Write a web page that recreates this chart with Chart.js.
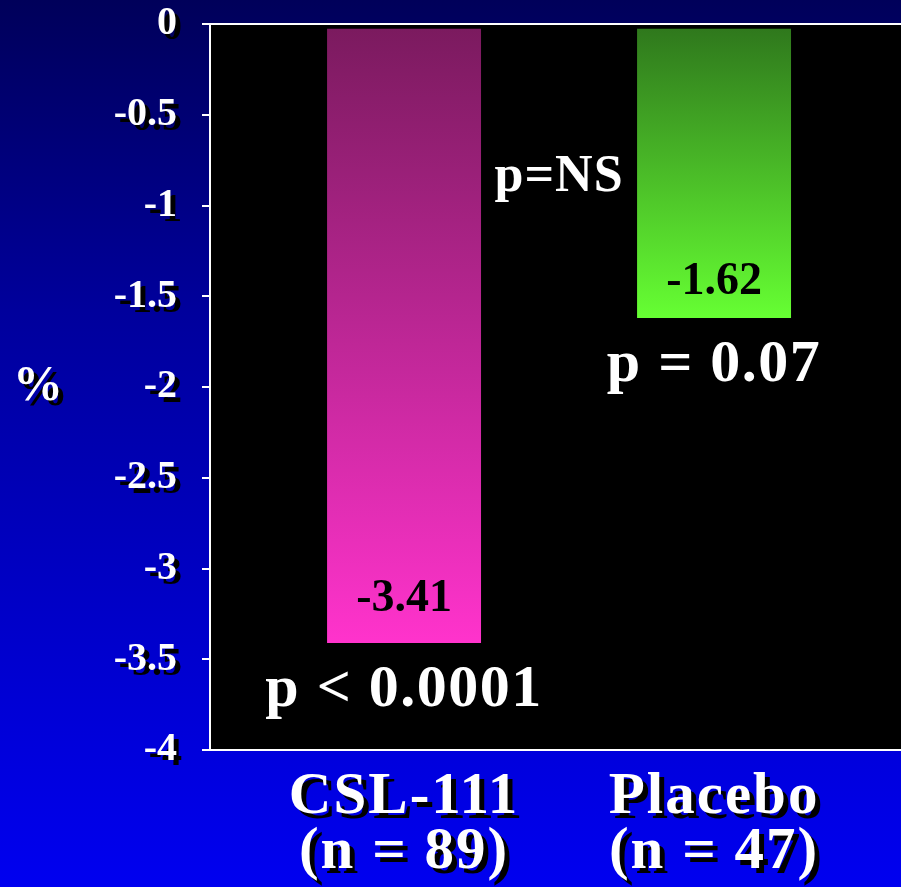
<!DOCTYPE html>
<html>
<head>
<meta charset="utf-8">
<script src="https://cdn.jsdelivr.net/npm/chart.js@4.4.1/dist/chart.umd.min.js"></script>
<style>
  html, body { margin: 0; padding: 0; }
  body {
    width: 901px; height: 887px; overflow: hidden;
    background: linear-gradient(#00005a 0%, #00009c 35%, #0000f0 100%);
  }
  canvas { display: block; }
</style>
</head>
<body>
<canvas id="chart" width="901" height="887"></canvas>
<script>
// data
const groups = ['CSL-111', 'Placebo'];
const groupSizes = ['(n = 89)', '(n = 47)'];
const changes = [-3.41, -1.62];
const valueLabels = ['-3.41', '-1.62'];
const pValues = ['p < 0.0001', 'p = 0.07'];
const pBetween = 'p=NS';
const yTickLabels = ['-4', '-3.5', '-3', '-2.5', '-2', '-1.5', '-1', '-0.5', '0'];
const yUnit = '%';

const SERIF = "'Liberation Serif', 'Times New Roman', serif";
const barTop = ['#7a1a5e', '#2e761c'];
const barBottom = ['#ff33cc', '#66ff33'];

// black plot area + white shadowed tick labels
const slideLook = {
  id: 'slideLook',
  beforeDraw(chart) {
    const { ctx, chartArea: a } = chart;
    ctx.save();
    ctx.fillStyle = '#000';
    ctx.fillRect(a.left, a.top, a.right - a.left, a.bottom - a.top);
    ctx.restore();
    Object.values(chart.scales).forEach(s => {
      if (s._shadowed) return;
      const orig = s.drawLabels;
      s.drawLabels = function (area) {
        const c = this.ctx;
        c.save();
        c.shadowColor = '#000';
        c.shadowOffsetX = 5;
        c.shadowOffsetY = 5;
        c.shadowBlur = 0;
        c.letterSpacing = this.axis === 'x' ? '2px' : '0px';
        orig.call(this, area);
        c.restore();
      };
      s._shadowed = true;
    });
  },
  afterDraw(chart) {
    const { ctx, scales: { x, y } } = chart;
    const bars = chart.getDatasetMeta(0).data;
    const valueOffsets = [32, 24];
    ctx.save();
    ctx.textAlign = 'center';
    ctx.textBaseline = 'alphabetic';
    bars.forEach((bar, i) => {
      ctx.fillStyle = '#000';
      ctx.letterSpacing = '0px';
      ctx.font = 'bold 46px ' + SERIF;
      ctx.fillText(valueLabels[i], bar.x, bar.y - valueOffsets[i]);
      ctx.fillStyle = '#fff';
      ctx.letterSpacing = '1.5px';
      ctx.font = 'bold 60px ' + SERIF;
      ctx.fillText(pValues[i], bar.x, bar.y + 63);
    });
    ctx.letterSpacing = '1px';
    ctx.font = 'bold 52px ' + SERIF;
    ctx.fillText(pBetween, x.getPixelForValue(1.5), y.getPixelForValue(-0.92));

    // unit label, horizontal, beside the -2 tick
    ctx.letterSpacing = '0px';
    ctx.shadowColor = '#000';
    ctx.shadowOffsetX = 5;
    ctx.shadowOffsetY = 5;
    ctx.font = 'bold 50px ' + SERIF;
    ctx.textAlign = 'left';
    ctx.textBaseline = 'middle';
    ctx.fillText(yUnit, 13, y.getPixelForValue(-2));
    ctx.restore();
  }
};

new Chart(document.getElementById('chart'), {
  type: 'bar',
  data: {
    datasets: [{
      data: changes.map((v, i) => ({ x: i + 1, y: v })),
      barThickness: 154,
      backgroundColor(ctx) {
        const i = ctx.dataIndex;
        const chart = ctx.chart;
        if (!chart.chartArea || i === undefined) return barBottom[i || 0];
        const y = chart.scales.y;
        const g = chart.ctx.createLinearGradient(0, y.getPixelForValue(0), 0, y.getPixelForValue(changes[i]));
        g.addColorStop(0, barTop[i]);
        g.addColorStop(1, barBottom[i]);
        return g;
      },
      borderColor: '#000',
      borderWidth: { top: 4, left: 0, right: 0, bottom: 0 },
      borderSkipped: false
    }]
  },
  options: {
    responsive: false,
    animation: false,
    layout: { padding: { top: 24, left: 0, right: 0, bottom: 0 } },
    plugins: { legend: { display: false }, tooltip: { enabled: false } },
    scales: {
      x: {
        type: 'linear',
        offset: false,
        min: 0.374,
        max: 2.603,
        afterBuildTicks(s) { s.ticks = groups.map((g, i) => ({ value: i + 1 })); },
        afterFit(s) { s.height = 137; s.paddingLeft = 0; s.paddingRight = 0; },
        grid: { display: false, offset: false },
        border: { display: true, color: '#fff', width: 2, z: 1 },
        ticks: {
          color: '#fff',
          padding: 12,
          maxRotation: 0,
          autoSkip: false,
          font: { family: SERIF, size: 59, weight: 'bold', lineHeight: 0.93 },
          callback: (v, i) => [groups[i], groupSizes[i]]
        }
      },
      y: {
        min: -4,
        max: 0,
        afterFit(s) { s.width = 210; s.paddingTop = 0; s.paddingBottom = 0; },
        grid: {
          z: 1,
          lineWidth: 2,
          tickLength: 8,
          tickColor: '#fff',
          color: ctx => (ctx.tick && (ctx.tick.value === 0 || ctx.tick.value === -4)) ? '#fff' : 'rgba(0,0,0,0)'
        },
        border: { display: true, color: '#fff', width: 2, z: 1 },
        ticks: {
          stepSize: 0.5,
          color: '#fff',
          padding: 25,
          font: { family: SERIF, size: 40, weight: 'bold' },
          callback: (v, i) => yTickLabels[i]
        }
      }
    }
  },
  plugins: [slideLook]
});
</script>
</body>
</html>
